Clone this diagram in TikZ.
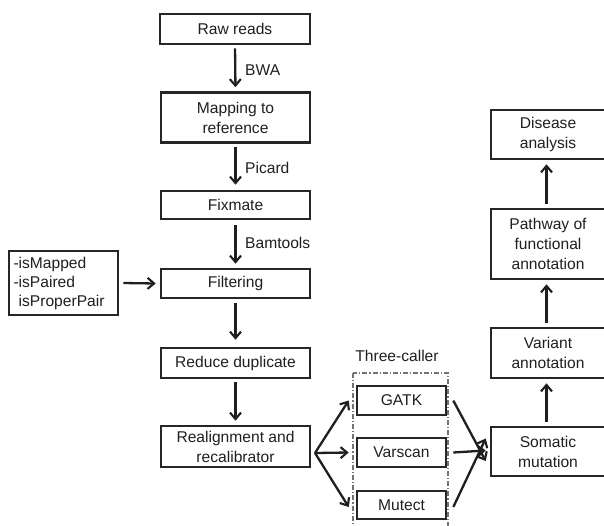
\documentclass[tikz,border=0pt]{standalone}
\usepackage{fontspec}
\setmainfont{Liberation Sans}
\usetikzlibrary{arrows.meta,positioning,calc}
\begin{document}
\begin{tikzpicture}[x=1pt,y=-1pt,
  every node/.style={font=\fontsize{15.6}{20}\selectfont, text=black!88},
  box/.style={draw=black!85, line width=2.6pt, align=center, inner sep=0pt},
  arr/.style={draw=black!88, line width=2.3pt, -{Straight Barb[length=6.5pt,width=11pt,line width=2.1pt]}},
  lbl/.style={anchor=west, inner sep=0pt},
  callerframe/.style={draw=black!55, line width=1.3pt, dash pattern=on 5pt off 2pt on 1.2pt off 2pt}
]
\useasboundingbox (0,0) rectangle (604,525);

% main column
\node[box, minimum width=150pt, minimum height=30pt] (raw) at (235,29) {Raw reads};
\node[box, minimum width=149pt, minimum height=50pt] (map) at (235.5,117.5) {Mapping to\\reference};
\node[box, minimum width=149pt, minimum height=28pt] (fix) at (235.5,205) {Fixmate};
\node[box, minimum width=149pt, minimum height=29pt] (filt) at (235.5,283.5) {Filtering};
\node[box, minimum width=149pt, minimum height=30pt] (red) at (235.5,363) {Reduce duplicate};
\node[box, minimum width=149pt, minimum height=41pt] (real) at (235.5,446.5) {Realignment and\\recalibrator};

% filter options
\node[box, minimum width=109pt, minimum height=64pt, align=left, text width=100pt, inner xsep=4.5pt,
      font=\fontsize{15.6}{19}\selectfont] (opt) at (63.5,283) {-isMapped\\-isPaired\\\phantom{-}isProperPair};

% callers
\draw[callerframe] (353,373) rectangle (448,530);
\node[inner sep=0pt] (tc) at (397,356) {Three-caller};
\node[box, minimum width=89pt, minimum height=29pt] (gatk) at (401.5,400.5) {GATK};
\node[box, minimum width=89pt, minimum height=29pt] (vars) at (401.5,452.5) {Varscan};
\node[box, minimum width=89pt, minimum height=28pt] (mut) at (401.5,505) {Mutect};

% right column
\node[box, minimum width=114pt, minimum height=49pt] (som) at (548,451.5) {Somatic\\mutation};
\node[box, minimum width=114pt, minimum height=50pt] (var) at (548,353) {Variant\\annotation};
\node[box, minimum width=114pt, minimum height=70pt] (path) at (548,244) {Pathway of\\functional\\annotation};
\node[box, minimum width=114pt, minimum height=49pt] (dis) at (548,134.5) {Disease\\analysis};

% vertical arrows main column
\draw[arr, shorten <=3pt, shorten >=4pt] (raw.south) -- (map.north);
\draw[arr, shorten <=3pt, shorten >=5pt] (map.south) -- (fix.north);
\draw[arr, shorten <=5pt, shorten >=4pt] (fix.south) -- (filt.north);
\draw[arr, shorten <=4pt, shorten >=7pt] (filt.south) -- (red.north);
\draw[arr, shorten <=3pt, shorten >=4pt] (red.south) -- (real.north);

% arrow labels
\node[lbl] (bwa) at (245,70) {BWA};
\node[lbl] (pic) at (245,168) {Picard};
\node[lbl] (bam) at (245,243) {Bamtools};

% options arrow
\draw[arr] ([xshift=4pt]opt.east) -- ([xshift=-4pt]filt.west);

% fan out
\coordinate (fan) at (315,453);
\draw[arr] (fan) -- ([xshift=-7pt]gatk.west);
\draw[arr] (fan) -- ([xshift=-7pt]vars.west);
\draw[arr] (fan) -- ([shift={(-7pt,-2pt)}]mut.west);

% fan in
\draw[arr] ([xshift=6pt]gatk.east) -- ([shift={(-4pt,-9.5pt)}]som.west);
\draw[arr] ([xshift=6pt]vars.east) -- ([shift={(-4pt,1pt)}]som.west);
\draw[arr] ([shift={(6pt,-2pt)}]mut.east) -- ([shift={(-4pt,13pt)}]som.west);

% right column arrows
\draw[arr, shorten <=4pt, shorten >=4pt] ([xshift=-1.5pt]som.north) -- ([xshift=-1.5pt]var.south);
\draw[arr, shorten <=4pt, shorten >=4pt] ([xshift=-1.5pt]var.north) -- ([xshift=-1.5pt]path.south);
\draw[arr, shorten <=4pt, shorten >=4pt] ([xshift=-1.5pt]path.north) -- ([xshift=-1.5pt]dis.south);
\end{tikzpicture}
\end{document}
